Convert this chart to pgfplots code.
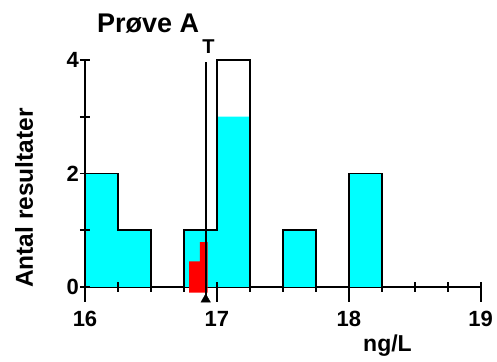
\documentclass[border=0pt]{standalone}
\usepackage{fontspec}
\setmainfont{Liberation Sans}
\usepackage{pgfplots}
\pgfplotsset{compat=1.18}
\definecolor{aqua}{RGB}{0,255,255}
\definecolor{rred}{RGB}{255,0,0}
\begin{document}
\begin{tikzpicture}
\begin{axis}[
  x=131.9pt, y=56.75pt,
  at={(85pt,60.95pt)}, anchor=south west,
  xmin=16, xmax=19, ymin=-0.23, ymax=4,
  axis x line=middle, axis y line=left,
  axis line style={-, line width=1.8pt},
  clip=false,
  xtick={16,17,18,19},
  ytick={0,1,2,3,4}, yticklabels={0,,2,,4},
  major tick length=0pt,
  hide obscured x ticks=false, hide obscured y ticks=false,
  /pgf/number format/assume math mode=true,
  ticklabel style={font=\bfseries\fontsize{22}{22}\selectfont},
  xticklabel style={anchor=base, inner sep=0pt, yshift=-39.5pt},
  yticklabel style={anchor=east, inner sep=0pt, xshift=-6pt},
]
\addplot[ybar interval, fill=aqua, draw=none] coordinates {(16,2)(16.25,1)(16.5,0)(16.75,1)(17,3)(17.25,0)(17.5,1)(17.75,0)(18,2)(18.25,0)};
\addplot[const plot, black, line width=1.8pt] coordinates {(16,0)(16,2)(16.25,1)(16.5,0)(16.75,1)(17,4)(17.25,0)(17.5,1)(17.75,0)(18,2)(18.25,0)};
\addplot[fill=rred, draw=none] coordinates {(16.79,-0.1)(16.79,0.45)(16.87,0.45)(16.87,0.79)(16.93,0.79)(16.93,-0.1)} --cycle;
\addplot[black, line width=1.8pt] coordinates {(16.915,-0.2)(16.915,3.96)};
\addplot[only marks, mark=triangle*, mark size=5.5pt, black] coordinates {(16.915,-0.22)};
\pgfplotsinvokeforeach{16,16.25,16.5,16.75,17,17.25,17.5,17.75,18,18.25,18.5,18.75,19}{
  \draw[black, line width=1.8pt] (axis cs:#1,0.088) -- (axis cs:#1,-0.088);
}
\pgfplotsinvokeforeach{16,17,18,19}{
  \draw[black, line width=1.8pt] (axis cs:#1,0) -- (axis cs:#1,-0.264);
}
\pgfplotsinvokeforeach{0,1,2,3,4}{
  \draw[black, line width=1.8pt] (axis cs:15.962,#1) -- (axis cs:16.038,#1);
}
\node[font=\bfseries\fontsize{20}{20}\selectfont, anchor=base, inner sep=0pt] at (axis cs:16.936,4.12) {T};
\end{axis}
\node[anchor=base west, inner sep=0pt, font=\bfseries\fontsize{27}{27}\selectfont] at (97pt,328pt) {Prøve A};
\node[rotate=90, anchor=center, inner sep=0pt, font=\bfseries\fontsize{24.5}{24.5}\selectfont] at (24pt,163pt) {Antal resultater};
\node[anchor=base west, inner sep=0pt, font=\bfseries\fontsize{23}{23}\selectfont] at (363pt,10pt) {ng/L};
\pgfresetboundingbox
\path[use as bounding box] (0,0) rectangle (497pt,361pt);
\end{tikzpicture}
\end{document}
